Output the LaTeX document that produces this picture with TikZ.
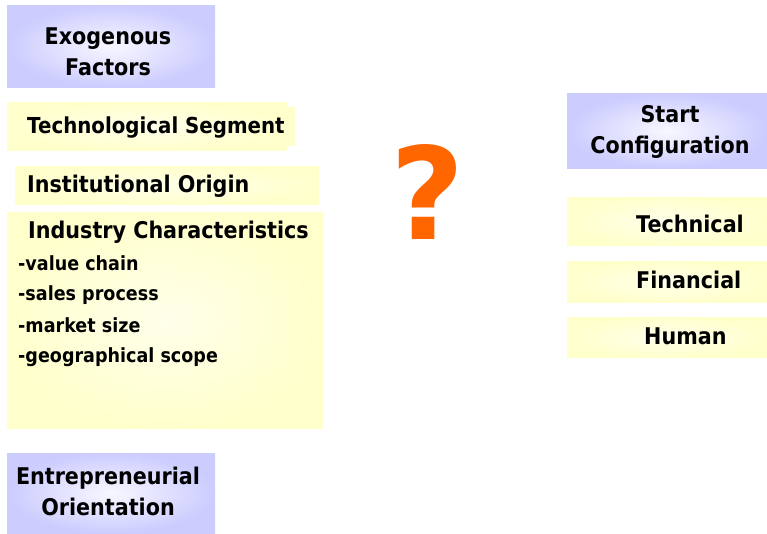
\documentclass[tikz,border=0pt]{standalone}
\usepackage{fontspec}
\setmainfont{DejaVu Sans}
\newfontfamily\boxfont[FakeStretch=0.9]{DejaVu Sans}
\definecolor{lav}{RGB}{204,204,255}
\definecolor{lyel}{RGB}{255,255,204}
\definecolor{qorange}{RGB}{255,102,0}
\begin{document}
\begin{tikzpicture}[x=1pt,y=-1pt,
  lavbox/.style={shade, inner color=white!85!lav, outer color=lav, draw=none, anchor=north west, inner sep=0pt},
  yelbox/.style={shade, inner color=white!60!lyel, outer color=lyel, draw=none, anchor=north west, inner sep=0pt},
  flat/.style={fill=lyel, draw=none, anchor=north west, inner sep=0pt},
  txt/.style={font=\boxfont\bfseries\fontsize{23}{31}\selectfont, inner sep=0pt, align=center},
  ltxt/.style={font=\boxfont\bfseries\fontsize{23}{31}\selectfont, inner sep=0pt, anchor=west},
  stxt/.style={font=\boxfont\bfseries\fontsize{19.5}{20}\selectfont, inner sep=0pt, anchor=west}]
\useasboundingbox (0,0) rectangle (767,533);
% left column
\node[lavbox, minimum width=208pt, minimum height=82pt] (exo) at (7,5) {};
\node[txt] (exot) at (108,52) {Exogenous\\Factors};
\node[flat, minimum width=288pt, minimum height=39pt] (techsh) at (7,107) {};
\node[yelbox, minimum width=280pt, minimum height=48pt] (tech) at (7,102) {};
\node[ltxt, font=\boxfont\bfseries\fontsize{22}{31}\selectfont] (techt) at (27,128) {Technological Segment};
\node[yelbox, minimum width=304pt, minimum height=38pt] (inst) at (15,166) {};
\node[ltxt] (instt) at (27,186) {Institutional Origin};
\node[yelbox, minimum width=316pt, minimum height=216pt] (ind) at (7,212) {};
\node[ltxt] (indt) at (28,232) {Industry Characteristics};
\node[stxt] (i1) at (18,263) {-value chain};
\node[stxt] (i2) at (18,295) {-sales process};
\node[stxt] (i3) at (18,325) {-market size};
\node[stxt] (i4) at (18,357) {-geographical scope};
\node[lavbox, minimum width=208pt, minimum height=80pt] (ent) at (7,453) {};
\node[txt] (entt) at (108,491) {Entrepreneurial\\Orientation};
% question mark
\node[font=\bfseries\fontsize{128}{128}\selectfont, text=qorange, inner sep=0pt] (q) at (428,192) {?};
% right column
\node[lavbox, minimum width=200pt, minimum height=75pt] (start) at (567,93) {};
\node[txt] (startt) at (670,132) {Start\\Configuration};
\node[yelbox, minimum width=200pt, minimum height=48pt] (tc) at (567,197) {};
\node[ltxt] (tct) at (636,224) {Technical};
\node[yelbox, minimum width=200pt, minimum height=41pt] (fn) at (567,261) {};
\node[ltxt] (fnt) at (636,280) {Financial};
\node[yelbox, minimum width=200pt, minimum height=40pt] (hu) at (567,317) {};
\node[ltxt] (hut) at (644,336) {Human};
\end{tikzpicture}
\end{document}
